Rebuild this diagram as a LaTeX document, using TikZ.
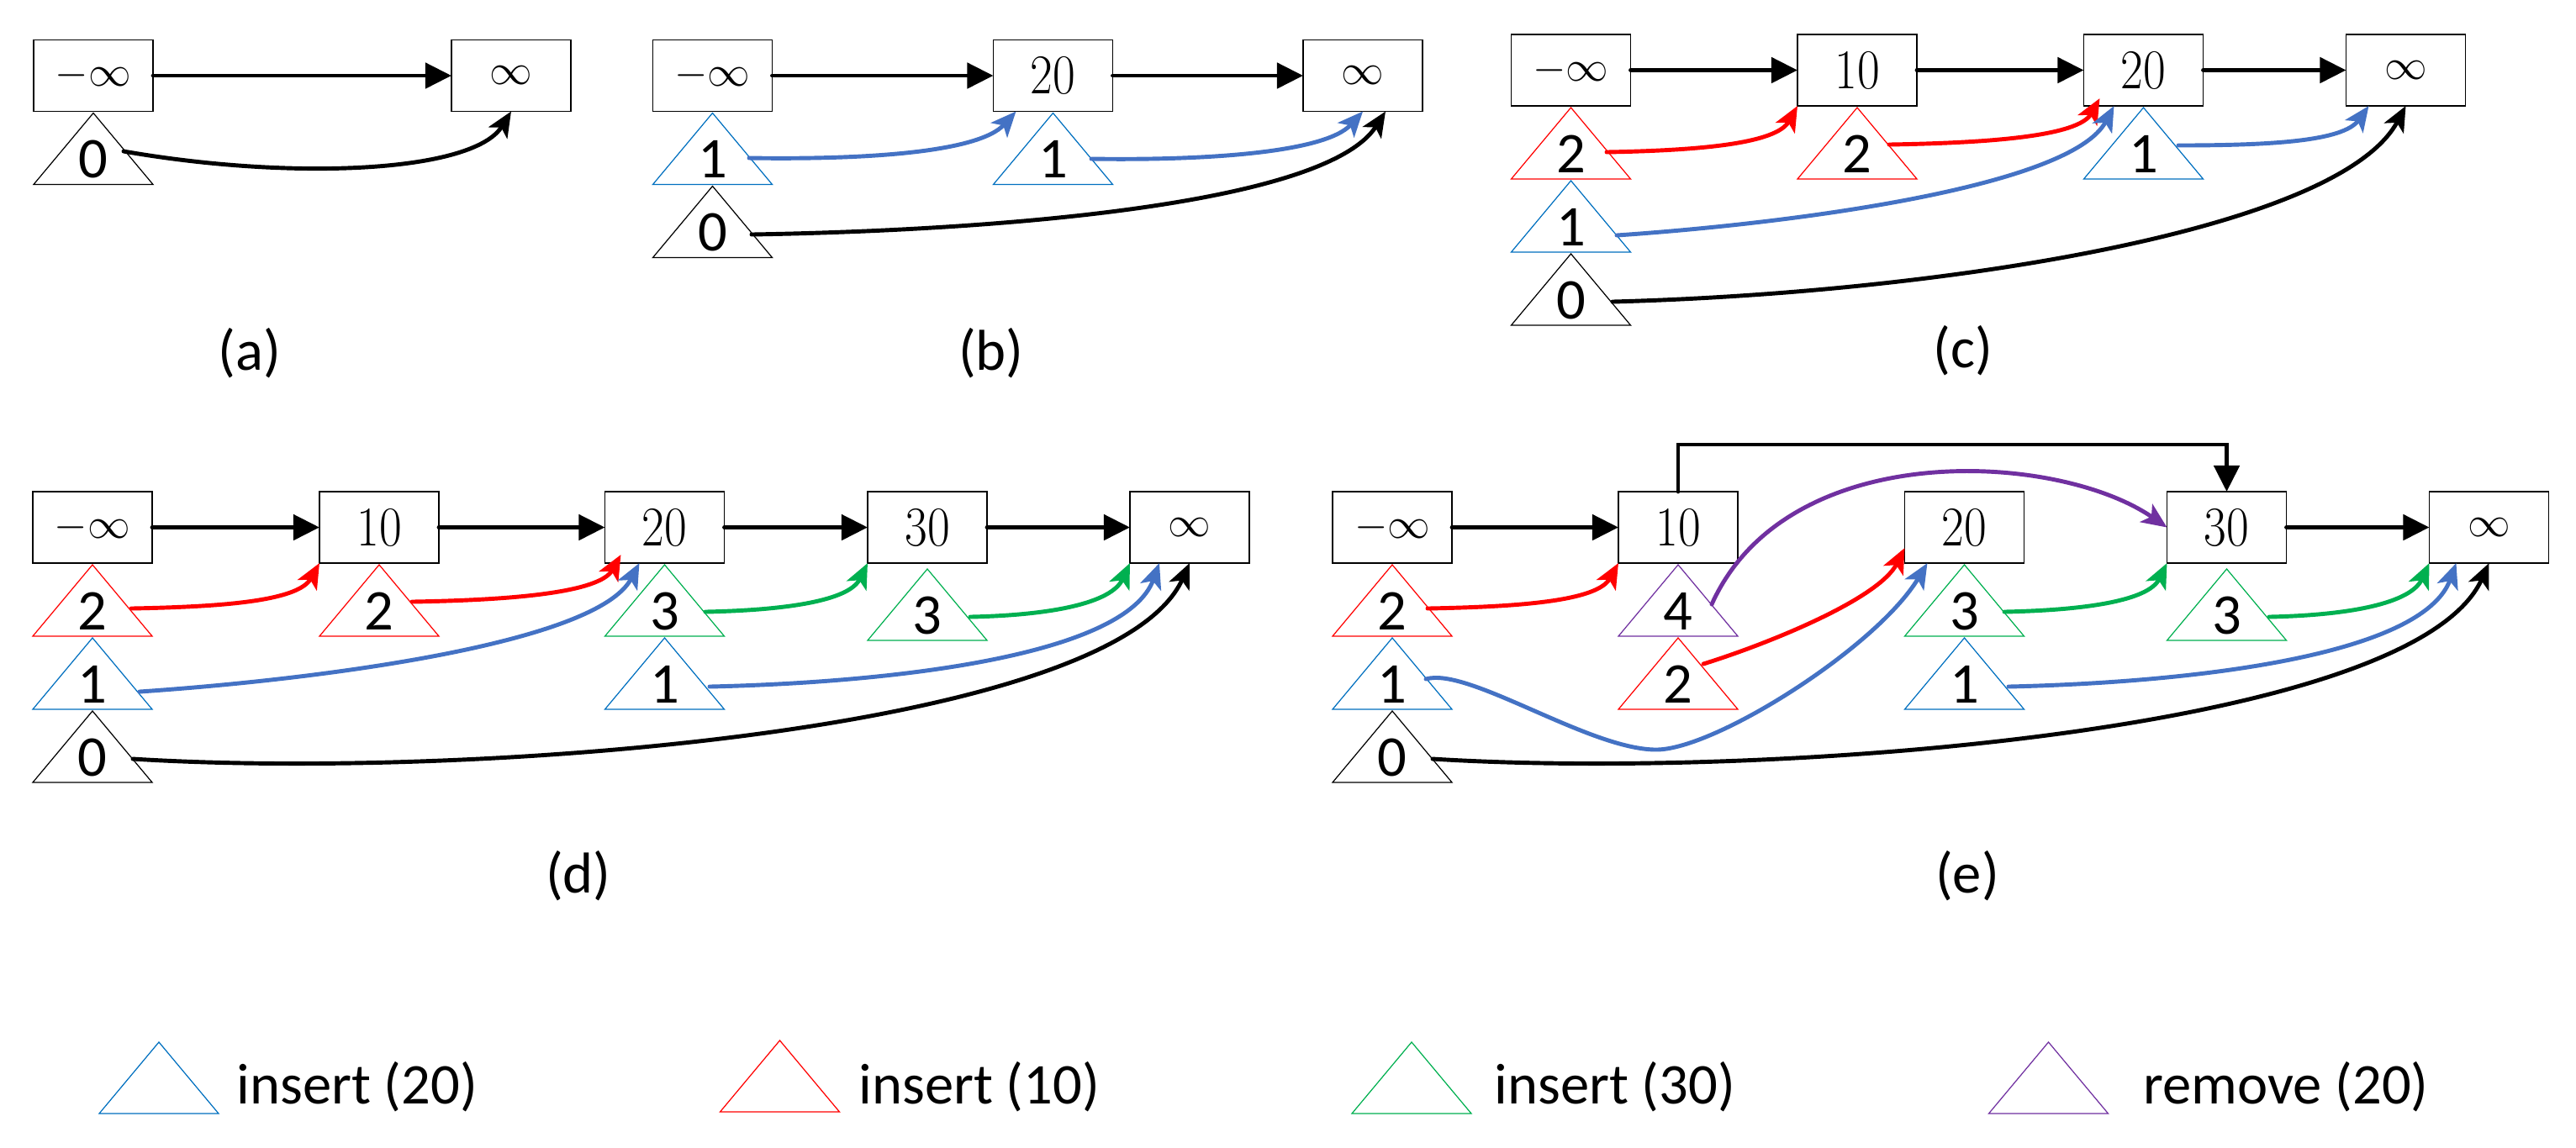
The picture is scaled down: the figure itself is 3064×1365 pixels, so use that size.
\documentclass[tikz,border=0pt]{standalone}
\usepackage{fontspec}
\newfontfamily\carl{Carlito}
\usetikzlibrary{arrows.meta,calc}
\definecolor{ablue}{HTML}{4472C4}
\definecolor{tblue}{HTML}{0070C0}
\definecolor{ared}{HTML}{FF0000}
\definecolor{agreen}{HTML}{00B050}
\definecolor{apurple}{HTML}{7030A0}
\tikzset{
 box/.style={draw=black, line width=0.45pt, minimum width=1.42cm, minimum height=0.85cm, inner sep=0pt, outer sep=0pt},
 trinode/.style={minimum width=1.42cm, minimum height=0.85cm, inner sep=0pt, outer sep=0pt},
 tribord/.style={line width=0.35pt, line join=miter},
 tridigit/.style={font=\carl\fontsize{19.5}{22}\selectfont, anchor=base, inner sep=0pt},
 lbl/.style={font=\carl\fontsize{19.5}{23}\selectfont, anchor=base, inner sep=0pt},
 legtxt/.style={font=\carl\fontsize{19.5}{23}\selectfont, anchor=base west, inner sep=0pt},
 link/.style={line width=1.4pt, line cap=round, -{Triangle[length=0.31cm, width=0.3cm]}},
 ptr/.style={line width=1.4pt, line cap=round, -{Stealth[length=0.3cm, width=0.26cm, inset=0.075cm]}},
}
\newcommand\numtxt[1]{\fontsize{19}{22}\selectfont\scalebox{0.87}[1]{#1}}
\newcommand\inftxt[1]{\fontsize{14.4}{17}\selectfont$#1$}
\newcommand\Tri[4]{%
 \node[trinode] (#1) at (#2) {};
 \draw[tribord,draw=#3] (#1.south west) -- (#1.north) -- (#1.south east) -- cycle;
 \node[tridigit] (#1d) at ($(#1.south)+(0,8)$) {#4};
}
\newcommand\LTri[3]{%
 \node[trinode] (#1) at (#2) {};
 \draw[tribord,draw=#3] (#1.south west) -- (#1.north) -- (#1.south east) -- cycle;
}
\begin{document}
\begin{tikzpicture}[x=0.01cm,y=0.01cm]
\path[fill=white,use as bounding box] (0,0) rectangle (3064,-1365);

% ---------- (a)
\node[box] (a0) at (111,-90) {\inftxt{-\infty}};
\node[box] (a1) at (608,-90) {\inftxt{\infty}};
\Tri{at0}{111,-177}{black}{0}
\draw[link] (a0) -- (a1);
\draw[ptr] ($(at0.center)+(36,-3)$) .. controls +(200,-35) and +(-45,-73) .. (a1.south);
\node[lbl] (la) at (297,-440) {(a)};

% ---------- (b)
\node[box] (b0) at (847.5,-90) {\inftxt{-\infty}};
\node[box] (b20) at (1252.5,-90) {\numtxt{20}};
\node[box] (binf) at (1621,-90) {\inftxt{\infty}};
\Tri{b0t1}{847.5,-177}{tblue}{1}
\Tri{b0t0}{847.5,-264}{black}{0}
\Tri{b20t1}{1252.5,-177}{tblue}{1}
\draw[link] (b0) -- (b20);
\draw[link] (b20) -- (binf);
\draw[ptr,ablue] ($(b0t1.center)+(43.5,-11)$) .. controls +(130,-2) and +(-45,-50) .. ($(b20.south west)+(27,0)$);
\draw[ptr,ablue] ($(b20t1.center)+(45.5,-12)$) .. controls +(130,-2) and +(-45,-50) .. (binf.south);
\draw[ptr] ($(b0t0.center)+(46.5,-15)$) .. controls +(300,5) and +(-70,-110) .. ($(binf.south)+(27,0)$);
\node[lbl] (lb) at (1179,-440) {(b)};

% ---------- (c)
\node[box] (c0) at (1868.5,-83.5) {\inftxt{-\infty}};
\node[box] (c10) at (2209,-83.5) {\numtxt{10}};
\node[box] (c20) at (2549.5,-83.5) {\numtxt{20}};
\node[box] (cinf) at (2861.5,-83.5) {\inftxt{\infty}};
\Tri{c0t1}{1868.5,-170.5}{ared}{2}
\Tri{c0t2}{1868.5,-257.5}{tblue}{1}
\Tri{c0t3}{1868.5,-344.5}{black}{0}
\Tri{c10t1}{2209,-170.5}{ared}{2}
\Tri{c20t1}{2549.5,-170.5}{tblue}{1}
\draw[link] (c0) -- (c10);
\draw[link] (c10) -- (c20);
\draw[link] (c20) -- (cinf);
\draw[ptr,ared] ($(c0t1.center)+(42.5,-10.5)$) .. controls +(110,2) and +(-25,-45) .. (c10.south west);
\draw[ptr,ared] ($(c10t1.center)+(38,-1.5)$) .. controls +(120,2) and +(-25,-45) .. ($(c20.south west)+(19,9)$);
\draw[ptr,ablue] ($(c0t2.center)+(54.5,-22.5)$) .. controls +(220,15) and +(-50,-95) .. ($(c20.south west)+(36,0)$);
\draw[ptr,ablue] ($(c20t1.center)+(41.5,-2.5)$) .. controls +(110,0) and +(-30,-42) .. ($(cinf.south west)+(27,0)$);
\draw[ptr] ($(c0t3.center)+(49.5,-14.5)$) .. controls +(380,10) and +(-80,-150) .. (cinf.south);
\node[lbl] (lc) at (2335,-437) {(c)};

% ---------- (d)
\node[box] (d0) at (110,-627.5) {\inftxt{-\infty}};
\node[box] (d10) at (451,-627.5) {\numtxt{10}};
\node[box] (d20) at (790.5,-627.5) {\numtxt{20}};
\node[box] (d30) at (1103,-627.5) {\numtxt{30}};
\node[box] (dinf) at (1415,-627.5) {\inftxt{\infty}};
\Tri{d0t1}{110,-714.5}{ared}{2}
\Tri{d0t2}{110,-801.5}{tblue}{1}
\Tri{d0t3}{110,-888.5}{black}{0}
\Tri{d10t1}{451,-714.5}{ared}{2}
\Tri{d20t1}{790.5,-714.5}{agreen}{3}
\Tri{d20t2}{790.5,-801.5}{tblue}{1}
\Tri{d30t1}{1103,-719.5}{agreen}{3}
\draw[link] (d0) -- (d10);
\draw[link] (d10) -- (d20);
\draw[link] (d20) -- (d30);
\draw[link] (d30) -- (dinf);
\draw[ptr,ared] ($(d0t1.center)+(46,-9.5)$) .. controls +(110,2) and +(-25,-45) .. (d10.south west);
\draw[ptr,ared] ($(d10t1.center)+(39,-1.5)$) .. controls +(120,2) and +(-25,-45) .. ($(d20.south west)+(19,10)$);
\draw[ptr,ablue] ($(d0t2.center)+(56,-21.5)$) .. controls +(220,15) and +(-50,-95) .. ($(d20.south west)+(41,0)$);
\draw[ptr,agreen] ($(d20t1.center)+(48.5,-13.5)$) .. controls +(95,2) and +(-22,-45) .. (d30.south west);
\draw[ptr,agreen] ($(d30t1.center)+(51,-14.5)$) .. controls +(95,2) and +(-22,-48) .. (dinf.south west);
\draw[ptr,ablue] ($(d20t2.center)+(53.5,-15.5)$) .. controls +(220,5) and +(-40,-110) .. ($(dinf.south west)+(35,0)$);
\draw[ptr] ($(d0t3.center)+(48,-14.5)$) .. controls +(400,-25) and +(-90,-200) .. (dinf.south);
\node[lbl] (ld) at (688,-1062) {(d)};

% ---------- (e)
\node[box] (e0) at (1656,-627.5) {\inftxt{-\infty}};
\node[box] (e10) at (1996,-627.5) {\numtxt{10}};
\node[box] (e20) at (2336.5,-627.5) {\numtxt{20}};
\node[box] (e30) at (2648.5,-627.5) {\numtxt{30}};
\node[box] (einf) at (2960.5,-627.5) {\inftxt{\infty}};
\Tri{e0t1}{1656,-714.5}{ared}{2}
\Tri{e0t2}{1656,-801.5}{tblue}{1}
\Tri{e0t3}{1656,-888.5}{black}{0}
\Tri{e10t1}{1996,-714.5}{apurple}{4}
\Tri{e10t2}{1996,-801.5}{ared}{2}
\Tri{e20t1}{2336.5,-714.5}{agreen}{3}
\Tri{e20t2}{2336.5,-801.5}{tblue}{1}
\Tri{e30t1}{2648.5,-719.5}{agreen}{3}
\draw[link] (e0) -- (e10);
\draw[link] (e30) -- (einf);
\coordinate (etop) at (2648.5,-529);
\draw[link] (e10.north) |- (etop) -- (e30.north);
\draw[ptr,ared] ($(e0t1.center)+(42,-9.5)$) .. controls +(110,2) and +(-25,-45) .. (e10.south west);
\draw[ptr,apurple] ($(e10t1.center)+(40,-4.5)$) .. controls +(90,200) and +(-130,90) .. (e30.west);
\draw[ptr,ared] ($(e10t2.center)+(30,11.5)$) .. controls +(80,25) and +(-30,-60) .. ($(e20.south west)+(0,18)$);
\coordinate (etr) at (1970,-892);
\draw[ptr,ablue] ($(e0t2.center)+(40,-6.5)$) .. controls +(50,15) and +(-80,0) .. (etr) .. controls +(70,0) and +(-60,-100) .. ($(e20.south west)+(27,0)$);
\draw[ptr,agreen] ($(e20t1.center)+(47.5,-13.5)$) .. controls +(95,2) and +(-22,-45) .. (e30.south west);
\draw[ptr,agreen] ($(e30t1.center)+(50.5,-14.5)$) .. controls +(95,2) and +(-22,-48) .. (einf.south west);
\draw[ptr,ablue] ($(e20t2.center)+(52.5,-15.5)$) .. controls +(220,5) and +(-40,-110) .. ($(einf.south west)+(32,0)$);
\draw[ptr] ($(e0t3.center)+(48,-14.5)$) .. controls +(400,-25) and +(-90,-200) .. (einf.south);
\node[lbl] (le) at (2340,-1062) {(e)};

% ---------- legend
\LTri{lg1}{189,-1282.5}{tblue}
\node[legtxt] (lg1t) at (281,-1313) {insert (20)};
\LTri{lg2}{927.5,-1280.5}{ared}
\node[legtxt] (lg2t) at (1021,-1313) {insert (10)};
\LTri{lg3}{1679,-1282.5}{agreen}
\node[legtxt] (lg3t) at (1777,-1313) {insert (30)};
\LTri{lg4}{2436.5,-1282.5}{apurple}
\node[legtxt] (lg4t) at (2549,-1313) {remove (20)};
\end{tikzpicture}
\end{document}
